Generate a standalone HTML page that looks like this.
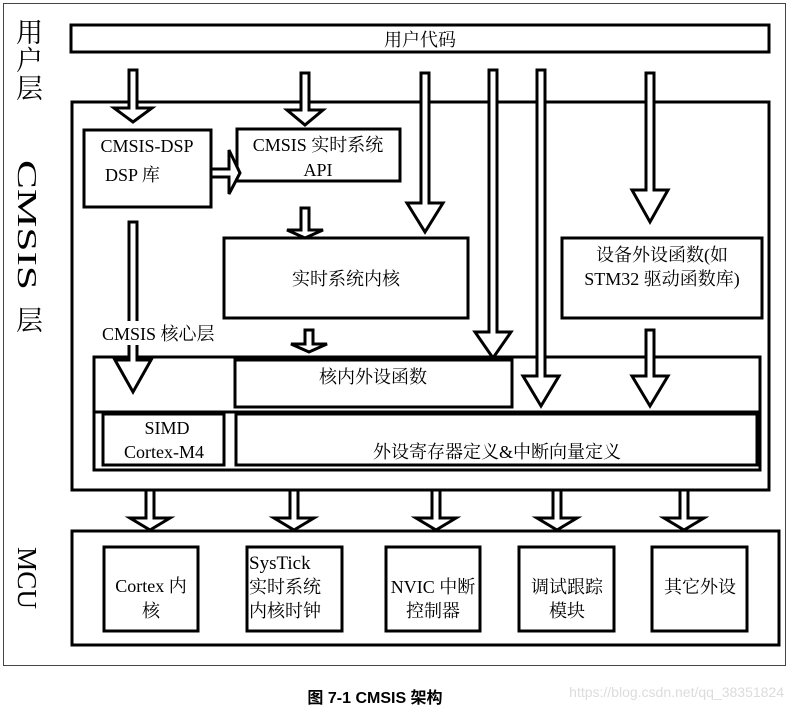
<!DOCTYPE html>
<html><head><meta charset="utf-8"><style>
html,body{margin:0;padding:0;background:#fff;}
svg{display:block;}
text{font-family:"Liberation Serif","Noto Serif CJK SC","Noto Sans CJK SC",serif;fill:#000;}
</style></head><body>
<svg width="792" height="710" viewBox="0 0 792 710" xmlns="http://www.w3.org/2000/svg">
<rect x="3.5" y="3.5" width="782" height="662" fill="none" stroke="#444" stroke-width="1"/>
<g font-size="27">
<text x="16" y="42">用</text><text x="16" y="70">户</text><text x="16" y="98">层</text>
<text transform="translate(18,160) rotate(90)" textLength="130" lengthAdjust="spacingAndGlyphs">CMSIS</text>
<text x="16" y="330">层</text>
<text transform="translate(18,547) rotate(90)" textLength="62" lengthAdjust="spacingAndGlyphs">MCU</text>
</g>
<g fill="none" stroke="#000" stroke-width="3">
<rect x="71" y="25" width="698" height="27"/>
<rect x="72" y="102" width="697" height="388"/>
<rect x="84" y="130" width="127" height="77"/>
<rect x="237" y="129" width="163" height="52"/>
<rect x="224" y="238" width="244" height="80"/>
<rect x="562" y="238" width="200" height="80"/>
<rect x="94" y="357" width="666" height="113"/>
<rect x="235" y="360" width="277" height="47"/>
<line x1="93" y1="412" x2="761" y2="412"/>
<rect x="103" y="414" width="121" height="51"/>
<rect x="236" y="414" width="521" height="51"/>
<rect x="72" y="531" width="707" height="114"/>
<rect x="104" y="547" width="94" height="84"/>
<rect x="247" y="547" width="95" height="84"/>
<rect x="386" y="547" width="94" height="84"/>
<rect x="519" y="547" width="95" height="84"/>
<rect x="652" y="547" width="95" height="84"/>
</g>
<g fill="#fff" stroke="#000" stroke-width="3" stroke-linejoin="miter">
<polygon points="129,70 137,70 137,108 152,108 133,122 114,108 129,108"/>
<polygon points="301,73 309,73 309,110 323,110 305,125 287,110 301,110"/>
<polygon points="421,73 429,73 429,203 443,203 425,232 407,203 421,203"/>
<polygon points="489,70 497,70 497,332 511,332 493,358 475,332 489,332"/>
<polygon points="537,70 545,70 545,376 559,376 541,406 523,376 537,376"/>
<polygon points="646,73 654,73 654,190 668,190 650,222 632,190 646,190"/>
<polygon points="129,222 137,222 137,360 151,360 133,392 115,360 129,360"/>
<polygon points="301,208 309,208 309,230 323,230 305,238 287,230 301,230"/>
<polygon points="305,330 313,330 313,344 327,344 309,352 291,344 305,344"/>
<polygon points="646,330 654,330 654,376 668,376 650,406 632,376 646,376"/>
<polygon points="211,169 229,169 229,150 240,173 229,194 229,177 211,177"/>
<polygon points="146,490 154,490 154,518 170,518 150,530 130,518 146,518"/>
<polygon points="290,490 298,490 298,518 314,518 294,530 274,518 290,518"/>
<polygon points="432,490 440,490 440,518 456,518 436,530 416,518 432,518"/>
<polygon points="553,490 561,490 561,518 577,518 557,530 537,518 553,518"/>
<polygon points="680,490 688,490 688,518 704,518 684,530 664,518 680,518"/>
</g>
<rect x="100" y="321" width="125" height="24" fill="#fff"/>
<g font-size="18">
<text x="420" y="46" text-anchor="middle">用户代码</text>
<text x="147" y="152" text-anchor="middle">CMSIS-DSP</text>
<text x="105" y="181">DSP 库</text>
<text x="318" y="151" text-anchor="middle">CMSIS 实时系统</text>
<text x="318" y="176" text-anchor="middle">API</text>
<text x="346" y="285" text-anchor="middle">实时系统内核</text>
<text x="662" y="261" text-anchor="middle">设备外设函数(如</text>
<text x="662" y="285" text-anchor="middle">STM32 驱动函数库)</text>
<text x="102" y="340">CMSIS 核心层</text>
<text x="373" y="383" text-anchor="middle">核内外设函数</text>
<text x="167" y="434" text-anchor="middle">SIMD</text>
<text x="164" y="458" text-anchor="middle">Cortex-M4</text>
<text x="497" y="458" text-anchor="middle">外设寄存器定义&amp;中断向量定义</text>
<text x="151" y="592" text-anchor="middle">Cortex 内</text>
<text x="151" y="617" text-anchor="middle">核</text>
<text x="249" y="569" font-size="19">SysTick</text>
<text x="249" y="593">实时系统</text>
<text x="249" y="617">内核时钟</text>
<text x="433" y="593" text-anchor="middle">NVIC 中断</text>
<text x="433" y="617" text-anchor="middle">控制器</text>
<text x="567" y="593" text-anchor="middle">调试跟踪</text>
<text x="567" y="617" text-anchor="middle">模块</text>
<text x="700" y="593" text-anchor="middle">其它外设</text>
</g>
<text x="375" y="703" font-size="16" font-weight="bold" text-anchor="middle" style="font-family:'Liberation Sans','Noto Sans CJK SC',sans-serif">图 7-1 CMSIS 架构</text>
<text x="784" y="697" font-size="14" text-anchor="end" style="fill:#dcdcdc;font-family:'Liberation Sans',sans-serif">https://blog.csdn.net/qq_38351824</text>
</svg>
</body></html>
